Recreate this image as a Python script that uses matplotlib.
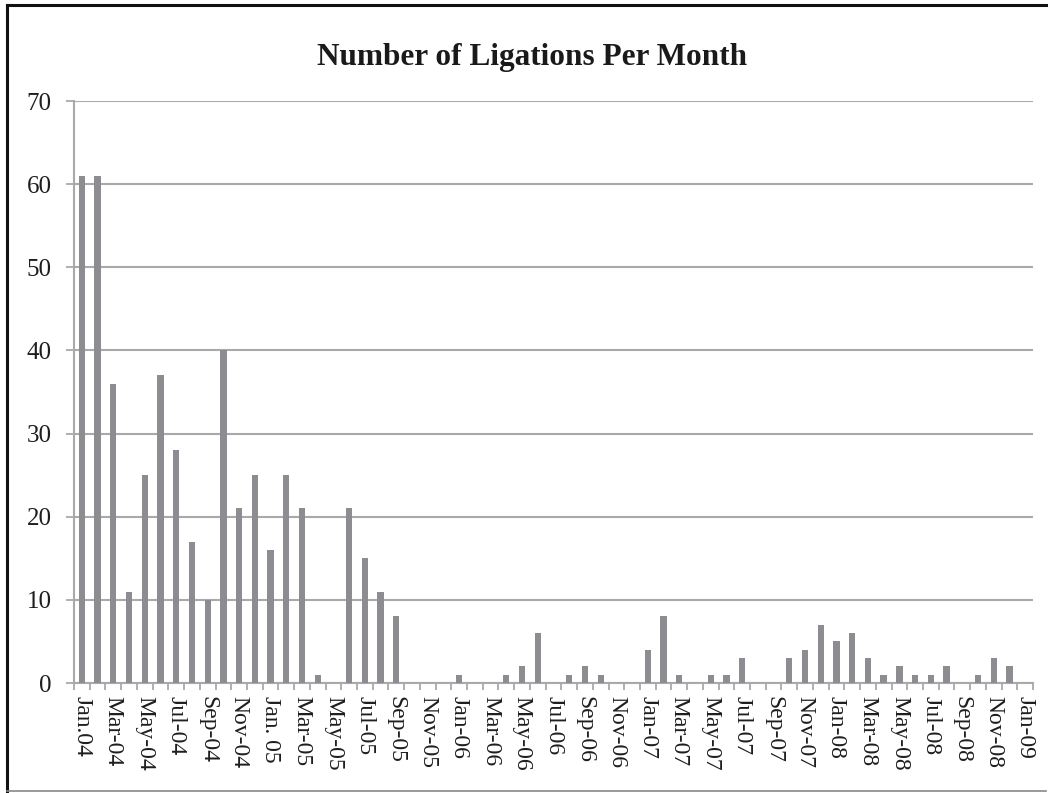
import matplotlib
matplotlib.use('Agg')
import matplotlib.pyplot as plt
from matplotlib.lines import Line2D

# Meses de Jan-04 a Jan-09
meses = ['Jan.04', 'Feb-04', 'Mar-04', 'Apr-04', 'May-04', 'Jun-04', 'Jul-04', 'Aug-04', 'Sep-04', 'Oct-04', 'Nov-04', 'Dec-04',
         'Jan. 05', 'Feb-05', 'Mar-05', 'Apr-05', 'May-05', 'Jun-05', 'Jul-05', 'Aug-05', 'Sep-05', 'Oct-05', 'Nov-05', 'Dec-05',
         'Jan-06', 'Feb-06', 'Mar-06', 'Apr-06', 'May-06', 'Jun-06', 'Jul-06', 'Aug-06', 'Sep-06', 'Oct-06', 'Nov-06', 'Dec-06',
         'Jan-07', 'Feb-07', 'Mar-07', 'Apr-07', 'May-07', 'Jun-07', 'Jul-07', 'Aug-07', 'Sep-07', 'Oct-07', 'Nov-07', 'Dec-07',
         'Jan-08', 'Feb-08', 'Mar-08', 'Apr-08', 'May-08', 'Jun-08', 'Jul-08', 'Aug-08', 'Sep-08', 'Oct-08', 'Nov-08', 'Dec-08',
         'Jan-09']

ligacoes = [61, 61, 36, 11, 25, 37, 28, 17, 10, 40, 21, 25,
            16, 25, 21, 1, 0, 21, 15, 11, 8, 0, 0, 0,
            1, 0, 0, 1, 2, 6, 0, 1, 2, 1, 0, 0,
            4, 8, 1, 0, 1, 1, 3, 0, 0, 3, 4, 7,
            5, 6, 3, 1, 2, 1, 1, 2, 0, 1, 3, 2,
            0]

yticks = [0, 10, 20, 30, 40, 50, 60, 70]

plt.rcParams['font.family'] = ['Liberation Serif', 'DejaVu Serif']

fig = plt.figure(figsize=(10.5, 7.93), dpi=100)
ax = fig.add_axes([0.0705, 0.1387, 0.9133, 0.7339])

pos = list(range(len(meses)))
ax.bar(pos, ligacoes, width=0.4, color='#8d8d91', zorder=3)

ax.set_xlim(-0.5, len(meses) - 0.5)
ax.set_ylim(0, 70)
ax.set_yticks(yticks)
ax.yaxis.grid(True, color='#a9a9ab', linewidth=1.5, zorder=0)

# rótulos a cada dois meses, marcas em cada limite de categoria
ax.set_xticks(pos[::2])
ax.set_xticklabels(meses[::2], rotation=-90, fontsize=17, color='#1e1e1e')
ax.set_xticks([p - 0.5 for p in pos] + [len(meses) - 0.5], minor=True)
ax.tick_params(axis='x', which='major', length=0, pad=9)
ax.tick_params(axis='x', which='minor', length=5, width=1.3, color='#a9a9ab', direction='out')
ax.tick_params(axis='y', length=6, width=1.3, color='#a9a9ab', labelsize=18, labelcolor='#1e1e1e', pad=10)

for lado in ['top', 'right']:
    ax.spines[lado].set_visible(False)
for lado in ['left', 'bottom']:
    ax.spines[lado].set_color('#a9a9ab')
    ax.spines[lado].set_linewidth(1.5)

fig.text(0.507, 0.928, 'Number of Ligations Per Month', ha='center', va='center',
         fontsize=22.5, fontweight='bold', color='#1a1a1a')

# moldura do gráfico
fig.add_artist(Line2D([0.0067, 0.0067], [0.003, 0.9937], color='#111111', linewidth=2.2))
fig.add_artist(Line2D([0.0067, 0.996], [0.9937, 0.9937], color='#111111', linewidth=2.2))
fig.add_artist(Line2D([0.0067, 0.996], [0.003, 0.003], color='#888888', linewidth=1.2))

fig.savefig('out.png', dpi=100)
